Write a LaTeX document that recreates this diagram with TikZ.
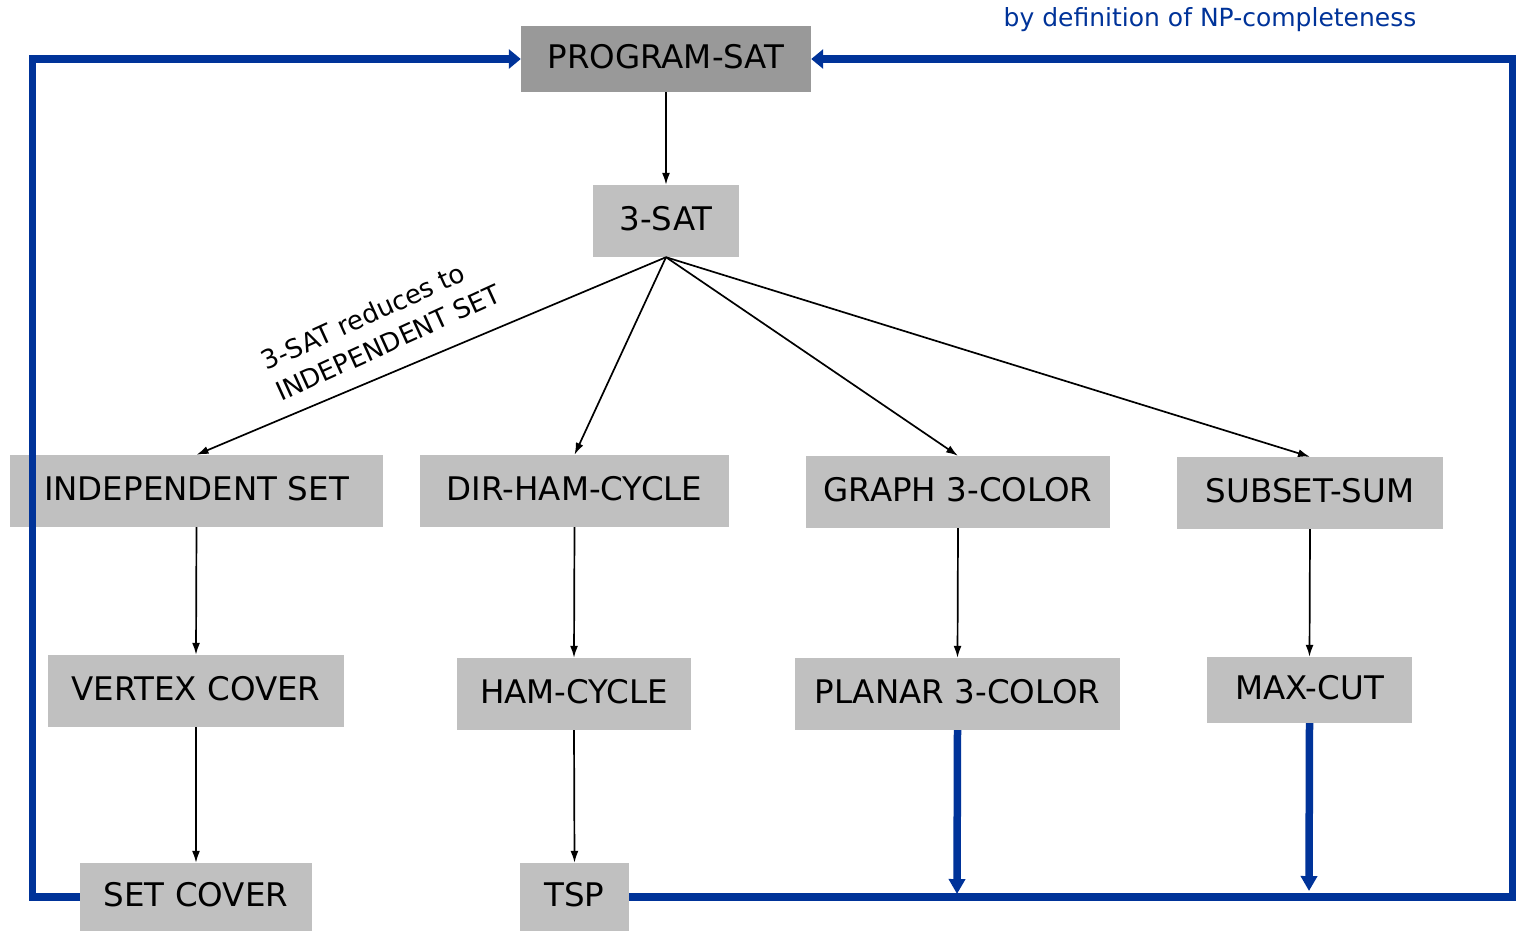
\documentclass[tikz,border=0pt]{standalone}
\usepackage{fontspec}
\setmainfont{DejaVu Sans}
\usetikzlibrary{arrows.meta}
\definecolor{npblue}{RGB}{0,51,153}
\definecolor{boxgray}{RGB}{192,192,192}
\definecolor{topgray}{RGB}{153,153,153}
\begin{document}
\begin{tikzpicture}[x=1pt,y=-1pt,
  prob/.style={fill=boxgray, inner sep=0pt, minimum height=72pt, text depth=6pt, font=\fontsize{32.5}{36}\selectfont},
  reduce/.style={-{Latex[length=12pt,width=8pt]}, line width=1.7pt},
  loopline/.style={draw=npblue, line width=7.5pt, line join=miter},
  looptip/.style={-{Triangle[length=12pt,width=19pt]}},
  downtip/.style={-{Triangle[length=15pt,width=16pt]}}]
\useasboundingbox (0,0) rectangle (1517,930);

% nodes
\node[prob, fill=topgray, minimum width=290pt, minimum height=66pt] (psat) at (666,59) {PROGRAM-SAT};
\node[prob, minimum width=146pt] (sat3) at (666,221) {3-SAT};
\node[prob, minimum width=373pt] (indep) at (196.5,491) {INDEPENDENT SET};
\node[prob, minimum width=309pt] (dham) at (574.5,491) {DIR-HAM-CYCLE};
\node[prob, minimum width=304pt] (gcol) at (958,492) {GRAPH 3-COLOR};
\node[prob, minimum width=266pt] (ssum) at (1310,493) {SUBSET-SUM};
\node[prob, minimum width=296pt] (vc) at (196,691) {VERTEX COVER};
\node[prob, minimum width=234pt] (ham) at (574,694) {HAM-CYCLE};
\node[prob, minimum width=325pt] (pcol) at (957.5,694) {PLANAR 3-COLOR};
\node[prob, minimum width=205pt, minimum height=66pt] (mcut) at (1309.5,690) {MAX-CUT};
\node[prob, minimum width=232pt, minimum height=68pt] (sc) at (196,897) {SET COVER};
\node[prob, minimum width=109pt, minimum height=68pt] (tsp) at (574.5,897) {TSP};

% black reductions
\draw[reduce] (psat.south) -- (sat3.north);
\draw[reduce] (sat3.south) -- (indep.north);
\draw[reduce] (sat3.south) -- (dham.north);
\draw[reduce] (sat3.south) -- (gcol.north);
\draw[reduce] (sat3.south) -- (ssum.north);
\draw[reduce] (indep.south) -- (vc.north);
\draw[reduce] (vc.south) -- (sc.north);
\draw[reduce] (dham.south) -- (ham.north);
\draw[reduce] (ham.south) -- (tsp.north);
\draw[reduce] (gcol.south) -- (pcol.north);
\draw[reduce] (ssum.south) -- (mcut.north);

% blue loop
\coordinate (bl) at (32.5,897);
\coordinate (tl) at (32.5,59);
\coordinate (br) at (1512.5,897);
\coordinate (tr) at (1512.5,59);
\coordinate (pend) at (957,894);
\coordinate (mend) at (1309,891);
\draw[loopline, looptip] (sc.west) -- (bl) -- (tl) -- (psat.west);
\draw[loopline, looptip] (tsp.east) -- (br) -- (tr) -- (psat.east);
\draw[loopline, downtip] (pcol.south) -- (pend);
\draw[loopline, downtip] (mcut.south) -- (mend);

% labels
\node[text=npblue, font=\fontsize{25}{30}\selectfont] (deflabel) at (1210,20) {by definition of NP-completeness};
\node[rotate=24.5, align=left, font=\fontsize{26}{34}\selectfont] (redlabel) at (381,327) {3-SAT reduces to\\INDEPENDENT SET};
\end{tikzpicture}
\end{document}
